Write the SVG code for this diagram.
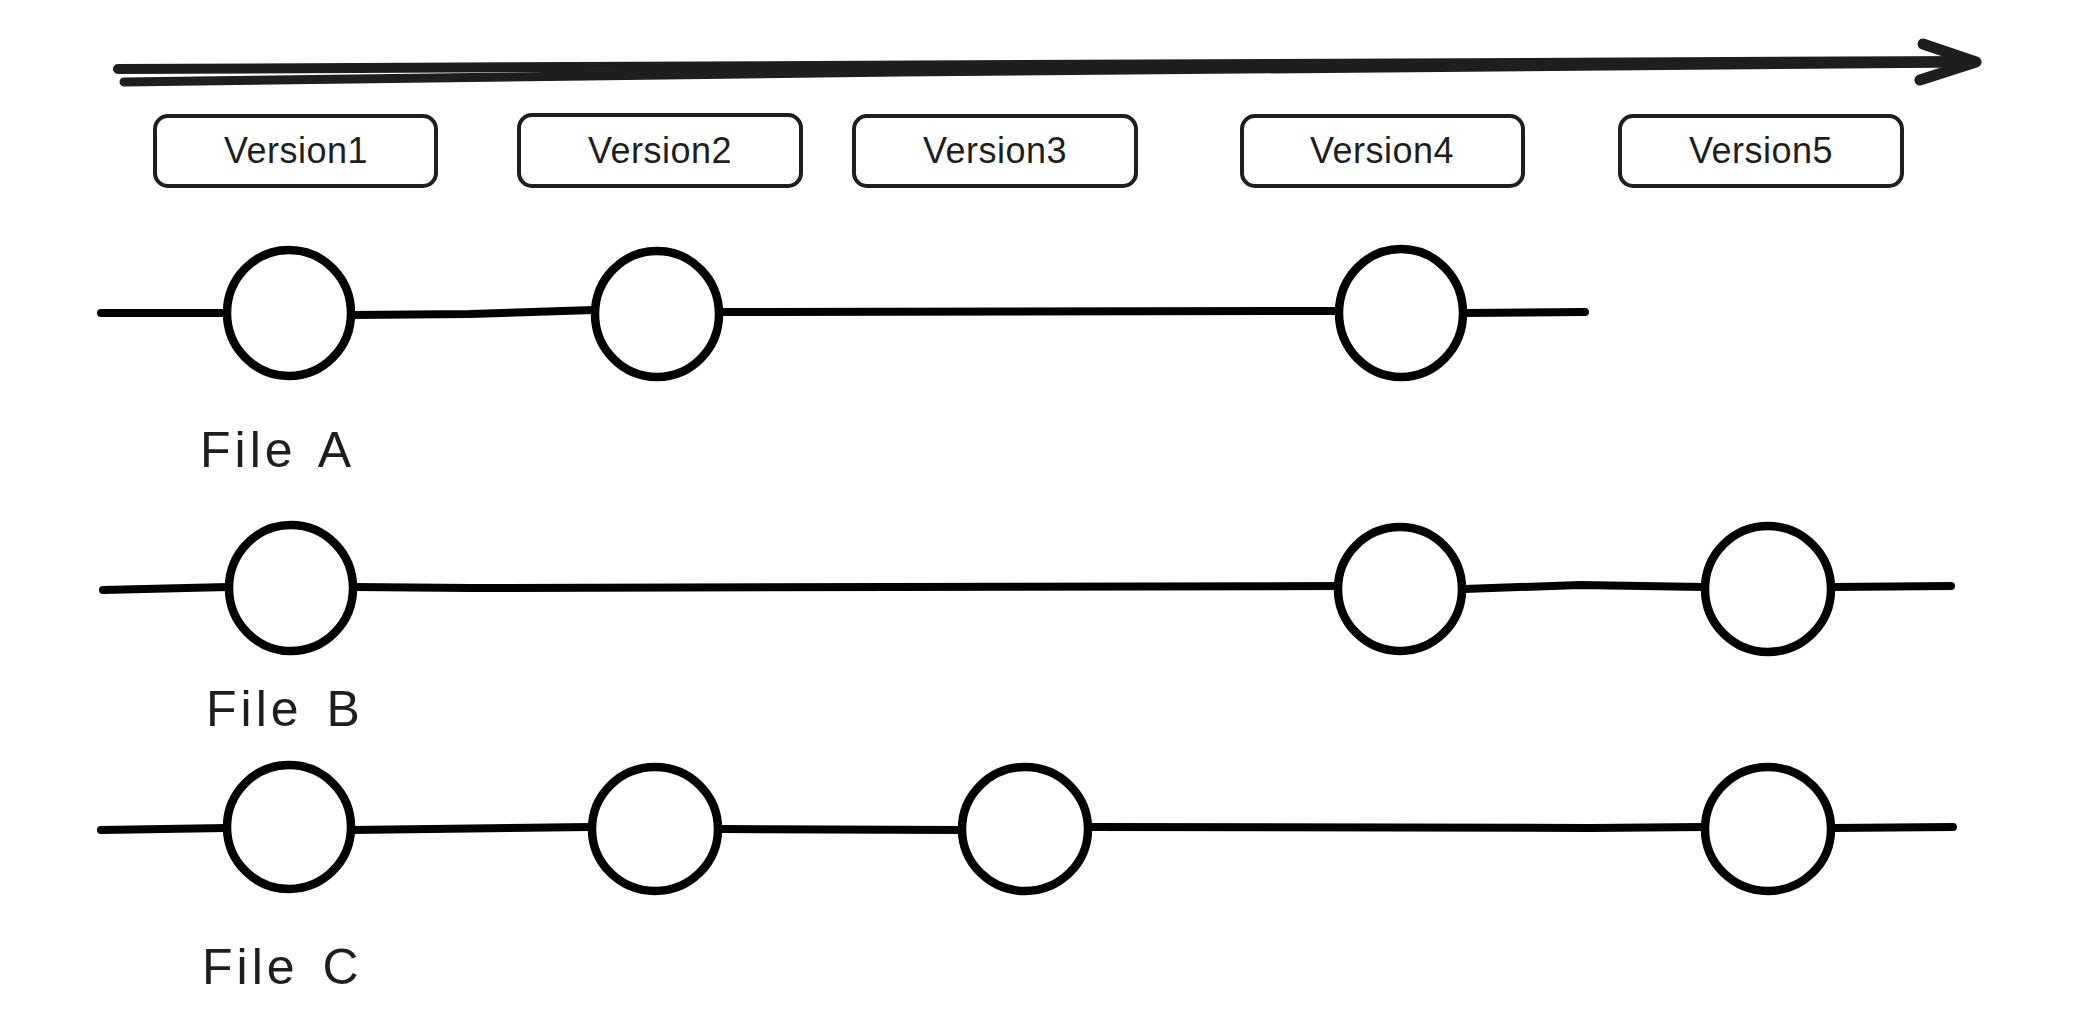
<svg xmlns="http://www.w3.org/2000/svg" width="2080" height="1032" viewBox="0 0 2080 1032">
<style>
.box{fill:#fff;stroke:#1e1e1e;stroke-width:4}
.lbl{font-family:"Liberation Sans",Arial,sans-serif;font-size:36px;fill:#1e1e1e;text-anchor:middle;letter-spacing:0.5px}
.file{font-family:"Liberation Sans",Arial,sans-serif;font-size:50px;fill:#1e1e1e;letter-spacing:4px;word-spacing:6px}
.c{fill:#fff;stroke:#000;stroke-width:8.5}
.ln{stroke:#000;stroke-width:8;stroke-linecap:round;fill:none}
</style>
<rect width="2080" height="1032" fill="#fff"/>
<g id="timeline">
<path d="M118 69 L1970 61" stroke="#1e1e1e" stroke-width="10" stroke-linecap="round" fill="none"/>
<path d="M124 82 L900 72 L1970 63" stroke="#1e1e1e" stroke-width="9" stroke-linecap="round" fill="none"/>
<path d="M1923 44 L1976 62 L1920 80" stroke="#1e1e1e" stroke-width="11" stroke-linecap="round" stroke-linejoin="round" fill="none"/>
</g>
<g id="v1"><rect class="box" x="155" y="116" width="281" height="70" rx="13"/><text class="lbl" x="296" y="163">Version1</text></g>
<g id="v2"><rect class="box" x="519" y="115" width="282" height="71" rx="13"/><text class="lbl" x="660" y="163">Version2</text></g>
<g id="v3"><rect class="box" x="854" y="116" width="282" height="70" rx="13"/><text class="lbl" x="995" y="163">Version3</text></g>
<g id="v4"><rect class="box" x="1242" y="116" width="281" height="70" rx="13"/><text class="lbl" x="1382" y="163">Version4</text></g>
<g id="v5"><rect class="box" x="1620" y="116" width="282" height="70" rx="13"/><text class="lbl" x="1761" y="163">Version5</text></g>
<g id="connectors">
<path class="ln" d="M101 313 L226 313"/>
<path class="ln" d="M352 315 L470 314 L594 310"/>
<path class="ln" d="M720 312 L1338 311"/>
<path class="ln" d="M1466 313 L1585 312"/>
<path class="ln" d="M103 590 L228 587"/>
<path class="ln" d="M354 587 L470 588 L1337 586"/>
<path class="ln" d="M1464 589 L1580 585 L1704 587"/>
<path class="ln" d="M1832 587 L1951 586"/>
<path class="ln" d="M101 830 L226 828"/>
<path class="ln" d="M352 830 L590 827"/>
<path class="ln" d="M720 829 L962 830"/>
<path class="ln" d="M1089 827 L1590 828 L1704 827"/>
<path class="ln" d="M1832 828 L1953 827"/>
</g>
<g id="fileA">
<ellipse class="c" cx="289" cy="313" rx="62" ry="63"/>
<ellipse class="c" cx="657" cy="314" rx="62" ry="63"/>
<ellipse class="c" cx="1401" cy="313" rx="62" ry="64"/>
<text class="file" x="200" y="467">File A</text>
</g>
<g id="fileB">
<ellipse class="c" cx="291" cy="588" rx="62" ry="63"/>
<ellipse class="c" cx="1400" cy="589" rx="62" ry="62"/>
<ellipse class="c" cx="1768" cy="589" rx="63" ry="63"/>
<text class="file" x="206" y="726">File B</text>
</g>
<g id="fileC">
<ellipse class="c" cx="289" cy="827" rx="62" ry="62"/>
<ellipse class="c" cx="655" cy="829" rx="63" ry="62"/>
<ellipse class="c" cx="1025" cy="829" rx="63" ry="62"/>
<ellipse class="c" cx="1768" cy="829" rx="63" ry="62"/>
<text class="file" x="202" y="984">File C</text>
</g>
</svg>
